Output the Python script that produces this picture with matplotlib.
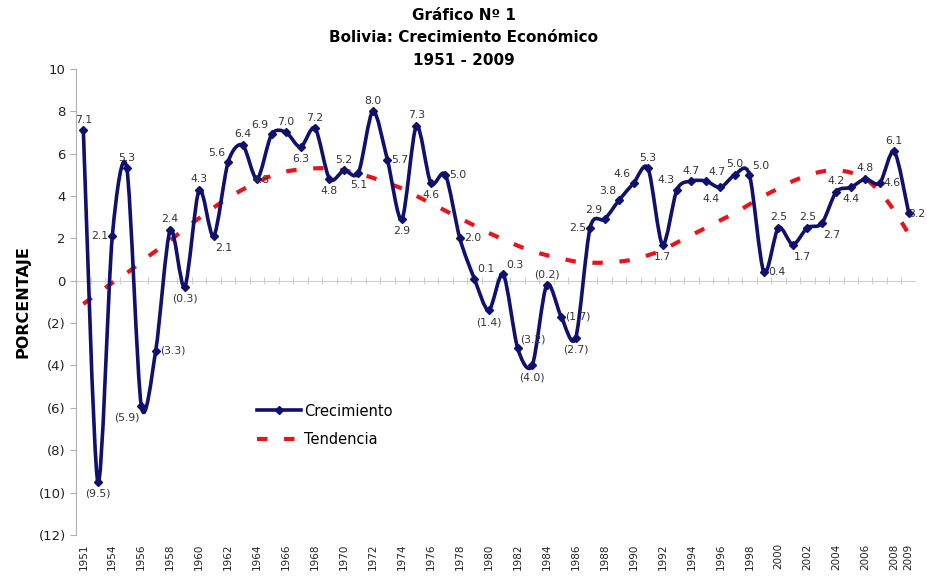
import numpy as np
import matplotlib.pyplot as plt
from matplotlib.path import Path
from matplotlib.patches import PathPatch
from matplotlib.lines import Line2D

plt.rcParams['font.family'] = ['DejaVu Sans']

years = [1951] + list(range(1953, 2010))
crecimiento = [7.1, -9.5, 2.1, 5.3, -5.9, -3.3, 2.4, -0.3, 4.3, 2.1,
               5.6, 6.4, 4.8, 6.9, 7.0, 6.3, 7.2, 4.8, 5.2, 5.1,
               8.0, 5.7, 2.9, 7.3, 4.6, 5.0, 2.0, 0.1, -1.4, 0.3,
               -3.2, -4.0, -0.2, -1.7, -2.7, 2.5, 2.9, 3.8, 4.6, 5.3,
               1.7, 4.3, 4.7, 4.7, 4.4, 5.0, 5.0, 0.4, 2.5, 1.7,
               2.5, 2.7, 4.2, 4.4, 4.8, 4.6, 6.1, 3.2]
# tendencia (polinomica de excel)
tendencia = [-1.1, -0.6, -0.1, 0.35, 0.9, 1.4, 1.9, 2.45, 2.95, 3.45,
             3.9, 4.3, 4.65, 4.95, 5.15, 5.25, 5.3, 5.3, 5.2, 5.05,
             4.85, 4.6, 4.35, 4.0, 3.65, 3.3, 2.95, 2.6, 2.25, 1.95,
             1.65, 1.4, 1.2, 1.05, 0.9, 0.85, 0.85, 0.9, 1.0, 1.2,
             1.45, 1.8, 2.15, 2.5, 2.85, 3.2, 3.6, 4.0, 4.35, 4.7,
             4.95, 5.15, 5.2, 5.1, 4.8, 4.2, 3.3, 2.2]
# posicion de las etiquetas
pos_etiq = ['a', 'b', 'i', 'a', 'bl', 'd', 'a', 'b', 'a', 'br',
            'al', 'a', 'c', 'al', 'a', 'b', 'a', 'b', 'a', 'b',
            'a', 'd', 'b', 'a', 'b', 'd', 'd', 'ar', 'b', 'ar',
            'ar', 'b', 'a', 'd', 'b', 'i', 'al', 'al', 'al', 'a',
            'b', 'al', 'a', 'ar', 'bl', 'a', 'ar', 'd', 'a', 'br',
            'a', 'br', 'a', 'b', 'a', 'd', 'a', 'e']

AZUL = '#10106e'
ROJO = '#e8141c'
GRIS = '#b0b0b0'


def smooth_path(x, y, k=6.0):
    # curva suavizada tipo excel (bezier)
    pts = np.column_stack([x, y]).astype(float)
    verts = [pts[0]]
    codes = [Path.MOVETO]
    n = len(pts)
    for i in range(n - 1):
        p0 = pts[max(i - 1, 0)]
        p1 = pts[i]
        p2 = pts[i + 1]
        p3 = pts[min(i + 2, n - 1)]
        c1 = p1 + (p2 - p0) / k
        c2 = p2 - (p3 - p1) / k
        verts += [c1, c2, p2]
        codes += [Path.CURVE4] * 3
    return Path(verts, codes)


def fmt(v):
    return f"({abs(v):.1f})" if v < 0 else f"{v:.1f}"


fig = plt.figure(figsize=(9.28, 5.85), dpi=100)
ax = fig.add_axes([0.082, 0.0855, 0.905, 0.797])

x = np.arange(len(years))

ax.add_patch(PathPatch(smooth_path(x, tendencia), fill=False, edgecolor=ROJO,
                       lw=3, linestyle=(0, (2.5, 4)), zorder=2))
ax.add_patch(PathPatch(smooth_path(x, crecimiento, 7.0), fill=False, edgecolor=AZUL,
                       lw=2.6, zorder=3))
ax.plot(x, crecimiento, ls='none', marker='D', ms=4, color=AZUL, zorder=4)

offs = {'a': (0, 4, 'center', 'bottom'), 'b': (0, -5, 'center', 'top'),
        'd': (3, 0, 'left', 'center'), 'i': (-3, 0, 'right', 'center'),
        'c': (3, -1, 'center', 'center'), 'e': (0, -1, 'left', 'center'),
        'al': (-2, 3, 'right', 'bottom'), 'ar': (2, 3, 'left', 'bottom'),
        'bl': (-1, -5, 'right', 'top'), 'br': (1, -5, 'left', 'top')}
for xi, v, p in zip(x, crecimiento, pos_etiq):
    dx, dy, ha, va = offs[p]
    ax.annotate(fmt(v), (xi, v), xytext=(dx, dy), textcoords='offset points',
                ha=ha, va=va, fontsize=7.8, color='#333333', zorder=5)

ax.set_xlim(-0.5, len(years) - 0.5)
ax.set_ylim(-12, 10)
yt = np.arange(-12, 11, 2)
ax.set_yticks(yt)
ax.set_yticklabels([fmt(v).replace('.0', '') for v in yt], fontsize=9.5, color='#222222')

idx = list(range(0, len(years), 2)) + [len(years) - 1]
ax.set_xticks(idx)
ax.set_xticklabels([str(years[i]) for i in idx], rotation=90, fontsize=7.5, color='#222222')
ax.tick_params(axis='x', length=0, pad=6)
ax.tick_params(axis='y', length=4, color=GRIS)

for s in ['top', 'right', 'bottom']:
    ax.spines[s].set_visible(False)
ax.spines['left'].set_color(GRIS)

ax.axhline(0, color='#cccccc', lw=0.8, zorder=1)
ax.vlines(np.arange(len(years) + 1) - 0.5, -0.15, 0.15, color='#cccccc', lw=0.8, zorder=1)

ax.set_ylabel('PORCENTAJE', fontsize=11.5, fontweight='bold', labelpad=6)

fig.text(0.5, 0.974, 'Gráfico Nº 1', ha='center', va='center', fontsize=11, fontweight='bold')
fig.text(0.5, 0.936, 'Bolivia: Crecimiento Económico', ha='center', va='center', fontsize=11, fontweight='bold')
fig.text(0.5, 0.897, '1951 - 2009', ha='center', va='center', fontsize=11, fontweight='bold')

handles = [Line2D([], [], color=AZUL, lw=2.6, marker='D', ms=4),
           Line2D([], [], color=ROJO, lw=3, linestyle=(0, (2.5, 4)))]
ax.legend(handles, ['Crecimiento', 'Tendencia'], loc='upper left',
          bbox_to_anchor=(0.2, 0.31), frameon=False, fontsize=10.5,
          handlelength=3.0, handletextpad=0.2, labelspacing=0.9)

fig.savefig('out.png', dpi=100)
